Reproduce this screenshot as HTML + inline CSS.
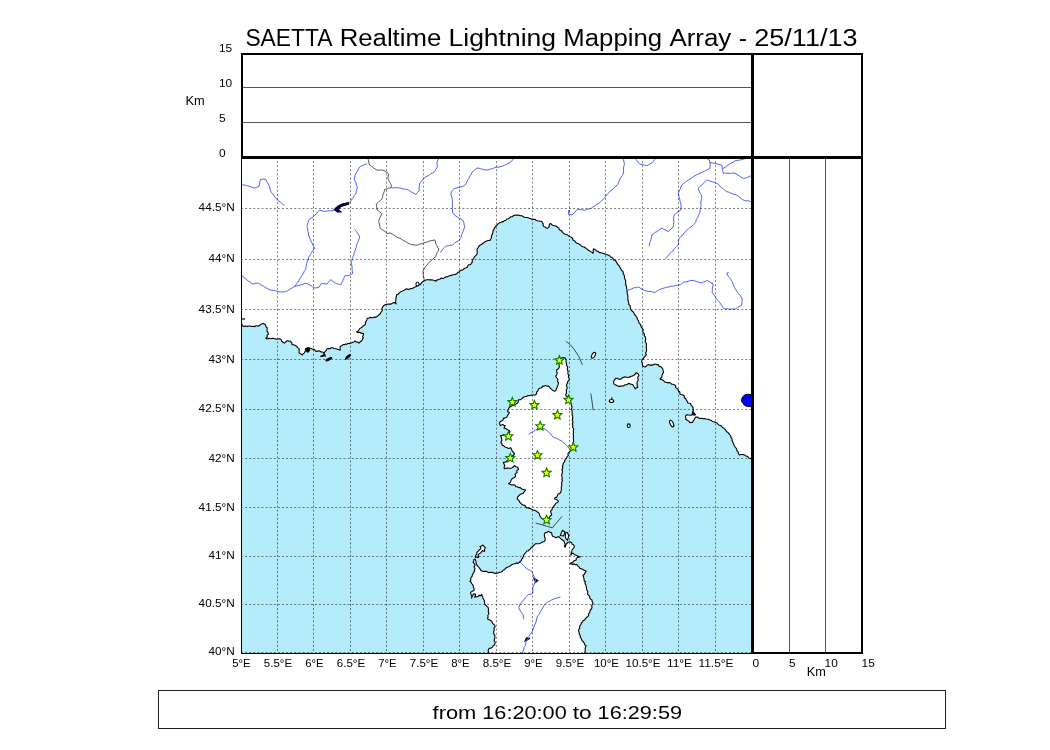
<!DOCTYPE html>
<html><head><meta charset="utf-8"><style>html,body{margin:0;padding:0;background:#fff;width:1050px;height:750px;overflow:hidden}svg{display:block;will-change:transform}</style></head>
<body><svg width="1050" height="750" viewBox="0 0 1050 750">
<defs><clipPath id="mc"><rect x="241" y="157" width="511" height="496"/></clipPath></defs><g clip-path="url(#mc)"><rect x="241" y="157" width="511" height="496" fill="#b4ecfc"/><g fill="#fff" stroke="#000" stroke-width="1.1" stroke-linejoin="round"><path d="M230.0 323.4 L231.3 323.2 L232.6 323.0 L233.9 323.6 L235.2 322.9 L236.6 323.4 L237.9 323.2 L239.2 322.9 L240.5 323.4 L241.8 323.4 L242.2 325.7 L244.1 326.5 L245.6 325.9 L247.1 326.4 L248.7 326.0 L250.2 326.0 L251.7 326.5 L253.1 326.3 L254.5 326.7 L255.8 325.8 L257.2 325.8 L258.6 326.1 L259.8 325.3 L260.9 324.2 L263.1 323.4 L265.4 324.6 L265.9 326.6 L267.3 328.0 L266.9 330.3 L267.3 331.6 L268.1 332.8 L268.5 334.1 L267.1 335.2 L267.2 337.2 L265.8 338.3 L267.4 338.9 L269.2 338.3 L270.8 338.7 L272.2 338.3 L273.5 338.4 L274.9 338.7 L276.2 339.3 L277.6 339.0 L279.9 338.7 L281.2 339.8 L281.8 341.3 L283.1 342.3 L284.5 343.2 L285.6 342.2 L286.4 341.0 L287.8 340.9 L289.2 341.3 L290.6 341.3 L291.8 342.8 L292.1 344.8 L293.8 344.8 L295.3 345.5 L296.7 346.3 L297.7 347.6 L299.0 348.6 L299.1 350.0 L299.2 351.4 L299.0 352.8 L300.1 353.6 L301.3 354.2 L302.4 355.0 L303.1 353.7 L304.4 352.9 L305.0 351.6 L305.6 350.2 L305.8 348.6 L307.3 347.9 L308.9 347.8 L310.2 348.3 L311.5 348.6 L312.8 349.4 L314.2 349.3 L315.7 351.2 L317.0 351.4 L318.4 350.8 L319.7 351.0 L321.1 352.0 L322.9 352.0 L323.8 353.2 L323.9 354.8 L322.3 355.6 L320.6 356.2 L322.2 356.5 L323.7 355.8 L325.3 356.2 L325.0 354.9 L324.1 353.8 L324.3 352.4 L325.4 351.3 L326.4 350.1 L327.1 348.7 L328.5 348.6 L330.0 348.7 L331.3 347.8 L332.7 347.8 L334.2 348.5 L335.8 348.8 L337.4 349.2 L338.8 349.7 L340.2 350.1 L340.1 348.2 L340.2 346.4 L341.8 345.8 L343.0 344.5 L344.4 344.8 L345.6 344.1 L346.9 344.2 L348.1 343.3 L349.5 343.6 L351.0 343.1 L352.4 342.4 L354.0 342.0 L355.1 340.8 L356.2 341.9 L357.8 342.1 L358.9 343.1 L360.2 341.8 L361.7 340.8 L362.6 339.5 L363.1 338.0 L362.7 336.4 L363.4 334.9 L363.6 333.3 L362.2 333.4 L360.9 333.1 L359.8 332.3 L358.1 332.6 L356.5 331.9 L357.9 331.2 L358.9 330.0 L359.8 328.6 L361.2 327.6 L362.6 326.7 L363.4 325.7 L364.8 325.1 L365.4 323.9 L365.4 322.3 L366.3 321.1 L366.9 319.7 L367.3 318.3 L368.8 318.3 L370.1 317.4 L371.5 317.8 L372.9 317.8 L374.3 317.1 L375.7 317.4 L377.6 316.0 L378.9 314.8 L380.4 313.7 L380.7 312.4 L381.8 311.4 L382.3 310.1 L381.9 308.6 L382.4 307.3 L383.2 306.2 L384.3 305.3 L385.5 304.6 L386.9 304.3 L388.5 304.1 L390.0 304.1 L391.6 303.9 L392.9 302.9 L394.4 302.5 L396.2 303.9 L395.5 302.6 L395.8 301.1 L395.8 299.7 L395.9 298.0 L396.5 296.3 L396.7 294.6 L398.2 294.2 L399.2 293.1 L400.2 292.0 L401.5 291.4 L402.9 290.8 L404.2 290.2 L405.4 289.4 L406.6 288.7 L408.1 289.5 L409.4 289.1 L410.6 288.6 L412.0 288.6 L413.3 288.0 L414.5 287.1 L415.8 286.8 L417.0 285.9 L418.2 284.9 L419.8 284.7 L421.0 283.8 L421.8 282.5 L422.9 281.6 L424.1 280.9 L425.4 280.3 L426.8 279.8 L428.2 279.8 L429.7 279.9 L431.3 279.7 L432.9 280.0 L434.4 280.5 L435.8 281.2 L437.0 280.0 L438.6 279.6 L440.1 279.0 L441.3 278.0 L443.0 278.6 L444.3 277.9 L445.5 276.9 L447.0 276.9 L448.3 276.2 L449.7 275.8 L451.2 275.4 L452.5 274.7 L454.0 274.7 L455.4 274.4 L456.7 273.8 L457.7 272.6 L458.9 271.9 L459.9 270.8 L461.1 270.2 L462.6 269.9 L463.7 269.0 L464.8 268.3 L466.1 267.8 L467.4 267.2 L467.9 265.7 L468.8 264.7 L470.5 264.7 L471.2 263.4 L472.2 262.5 L472.2 260.7 L473.1 259.1 L474.0 258.0 L474.4 256.6 L475.7 255.8 L476.5 254.7 L477.2 253.5 L477.2 252.1 L477.1 250.8 L477.0 249.5 L477.5 248.3 L478.4 247.3 L478.9 246.0 L480.0 245.2 L481.4 244.6 L482.5 243.5 L483.9 242.8 L485.0 241.7 L486.6 241.1 L488.2 240.5 L489.9 240.4 L490.8 239.0 L491.5 237.5 L491.4 235.8 L492.2 234.6 L492.6 233.3 L493.0 231.9 L493.0 230.5 L494.0 229.5 L494.2 228.0 L495.3 227.1 L496.0 225.9 L497.1 225.0 L498.1 223.9 L499.3 223.1 L500.7 222.6 L501.8 221.9 L503.3 221.6 L504.4 220.6 L505.9 220.3 L506.8 219.0 L508.3 218.8 L509.6 218.1 L510.5 216.8 L512.2 216.8 L513.4 215.6 L515.0 215.2 L516.4 215.0 L517.7 215.1 L519.1 215.2 L520.4 215.7 L521.9 215.7 L523.1 216.6 L524.4 217.2 L525.7 217.5 L527.2 217.5 L528.7 218.0 L530.2 218.6 L531.7 219.3 L533.3 219.4 L534.8 219.2 L536.1 220.2 L537.4 220.8 L538.8 221.0 L540.2 221.3 L541.7 221.3 L542.3 222.6 L543.2 223.8 L543.1 225.5 L544.0 226.7 L545.3 227.0 L546.4 228.0 L547.8 228.2 L549.1 226.9 L549.2 225.1 L550.1 223.6 L551.4 224.1 L552.4 225.3 L553.8 225.7 L555.3 225.8 L556.6 226.4 L557.7 227.4 L558.9 228.0 L559.2 229.6 L560.2 230.4 L561.7 230.8 L562.3 232.0 L563.4 233.1 L564.5 234.0 L566.0 234.5 L567.5 234.9 L568.6 235.9 L569.9 236.6 L571.3 237.2 L572.5 238.1 L572.8 239.9 L574.1 240.6 L575.3 241.5 L576.1 242.8 L577.5 243.4 L579.1 244.1 L580.6 245.0 L581.5 246.1 L582.6 246.8 L584.1 247.0 L585.2 247.8 L586.3 248.6 L587.4 249.3 L588.3 250.4 L589.6 250.8 L590.6 251.7 L591.9 252.2 L592.8 253.3 L593.5 251.9 L593.1 250.3 L593.5 248.8 L594.7 249.4 L595.8 250.2 L596.7 251.1 L598.1 251.2 L599.0 252.4 L600.4 252.6 L601.9 253.1 L603.5 253.6 L605.0 254.1 L606.5 254.6 L608.0 255.0 L609.5 255.5 L610.3 256.8 L611.7 257.4 L612.9 258.2 L613.5 259.9 L615.1 260.2 L616.0 261.4 L616.8 262.6 L617.4 263.9 L618.3 265.0 L619.4 266.1 L620.0 267.4 L620.7 268.6 L621.3 270.0 L622.4 271.0 L623.3 272.2 L623.2 273.8 L624.1 275.0 L624.5 276.4 L624.4 278.0 L625.1 279.2 L625.6 280.6 L625.7 282.0 L625.7 283.4 L625.7 284.9 L626.5 286.2 L626.5 287.6 L626.8 289.0 L627.0 290.4 L627.2 291.8 L627.2 293.2 L627.7 294.6 L627.8 296.0 L628.0 297.4 L627.7 298.9 L628.2 300.2 L628.2 301.7 L628.8 303.0 L628.8 304.5 L630.1 305.6 L630.3 307.0 L630.4 308.5 L631.1 309.8 L632.0 311.0 L633.2 312.0 L634.0 313.1 L634.5 314.6 L635.6 315.5 L636.3 316.8 L637.2 317.9 L637.4 319.5 L638.4 320.6 L638.8 322.1 L639.3 323.5 L640.8 324.4 L640.8 326.0 L641.6 327.4 L642.4 328.6 L643.3 329.8 L642.9 331.5 L643.2 332.9 L644.5 334.0 L644.2 335.6 L645.3 336.8 L645.6 338.2 L645.7 339.6 L645.2 341.0 L645.5 342.3 L646.5 343.7 L646.3 345.1 L646.3 346.4 L646.4 347.8 L646.5 349.1 L646.5 350.4 L646.2 351.7 L645.6 353.0 L646.3 354.4 L645.6 355.6 L644.7 356.5 L643.9 357.6 L643.3 358.9 L642.0 359.5 L641.8 362.0 L642.4 363.9 L642.6 365.8 L643.7 366.5 L645.0 367.0 L646.2 366.2 L647.1 365.0 L648.6 364.6 L650.0 365.2 L651.4 364.9 L652.8 365.2 L654.2 364.1 L655.6 364.3 L657.0 364.6 L658.5 364.9 L659.2 366.4 L660.7 366.6 L661.8 367.6 L662.8 369.0 L663.1 370.8 L663.6 372.4 L662.5 373.8 L662.0 375.5 L661.8 377.2 L660.0 379.0 L661.5 379.5 L663.0 380.2 L664.2 381.4 L665.3 382.3 L666.7 382.3 L667.9 382.9 L669.4 382.6 L670.6 383.0 L671.6 384.2 L673.0 384.3 L674.2 384.8 L675.6 385.7 L675.8 387.6 L677.1 388.6 L678.2 389.7 L678.5 391.1 L679.9 391.9 L679.7 393.5 L680.7 394.5 L683.0 395.0 L684.3 395.9 L684.4 397.7 L685.7 398.7 L686.4 400.1 L687.3 401.5 L687.8 403.0 L689.1 403.3 L690.5 403.5 L691.1 405.4 L692.6 406.7 L693.1 408.0 L693.1 409.4 L693.3 411.1 L692.6 412.6 L692.1 414.7 L690.5 415.3 L688.6 415.0 L686.7 414.7 L685.4 416.3 L685.9 417.9 L685.7 419.5 L687.0 419.9 L688.0 420.8 L689.2 421.5 L689.9 422.7 L691.2 422.2 L692.6 422.5 L693.2 420.9 L694.2 419.5 L695.3 417.4 L696.6 417.0 L697.9 417.1 L698.8 418.1 L700.1 418.5 L701.6 418.4 L703.0 418.8 L704.5 418.5 L705.9 419.0 L707.3 419.3 L708.7 419.4 L709.9 420.1 L711.3 420.3 L712.3 421.5 L713.7 421.8 L715.0 422.2 L716.5 422.7 L717.7 423.8 L718.7 425.0 L720.3 425.4 L721.7 426.0 L722.3 427.5 L723.7 428.1 L724.8 429.1 L725.8 430.2 L726.5 431.6 L727.9 432.4 L728.9 433.6 L729.7 434.8 L730.9 435.8 L730.8 437.4 L732.0 438.5 L731.9 440.1 L732.5 441.4 L733.0 442.8 L733.8 444.1 L734.1 445.5 L735.0 446.8 L736.0 448.0 L736.7 449.4 L737.0 451.0 L738.3 452.1 L738.4 453.8 L739.5 455.0 L741.0 454.5 L742.5 454.5 L744.4 454.9 L746.0 456.0 L747.7 456.4 L748.7 458.0 L750.4 458.4 L751.6 459.3 L753.1 459.6 L754.6 459.7 L756.0 460.2 L757.3 460.7 L758.6 461.4 L760.0 462.0 L759.6 460.7 L759.9 459.4 L759.7 458.1 L760.6 456.8 L760.6 455.5 L760.1 454.2 L759.7 452.9 L760.6 451.6 L759.8 450.3 L759.8 449.0 L759.4 447.7 L759.9 446.4 L760.0 445.1 L760.0 443.8 L759.6 442.5 L760.0 441.2 L759.4 439.9 L759.7 438.6 L759.5 437.3 L759.9 436.0 L759.5 434.7 L759.4 433.4 L759.8 432.1 L759.7 430.8 L760.1 429.5 L760.0 428.2 L760.3 426.9 L760.2 425.6 L760.3 424.3 L760.5 423.0 L759.9 421.7 L759.8 420.4 L760.6 419.1 L759.6 417.8 L760.3 416.5 L760.2 415.2 L759.5 413.9 L760.4 412.6 L760.5 411.3 L760.2 410.0 L760.3 408.7 L760.4 407.4 L759.6 406.1 L760.0 404.8 L760.0 403.5 L760.4 402.2 L760.4 400.9 L760.4 399.6 L760.1 398.3 L760.5 397.0 L760.2 395.7 L760.2 394.4 L759.7 393.1 L759.4 391.8 L759.6 390.5 L759.8 389.2 L759.5 387.9 L760.4 386.6 L760.1 385.3 L760.2 384.0 L760.2 382.7 L760.2 381.4 L760.0 380.1 L759.4 378.8 L760.4 377.5 L760.3 376.2 L760.0 374.9 L760.0 373.6 L760.2 372.3 L759.5 371.0 L760.3 369.7 L759.7 368.4 L759.5 367.1 L759.7 365.8 L760.3 364.5 L759.6 363.2 L760.3 361.9 L760.6 360.6 L760.0 359.3 L759.9 358.0 L760.0 356.7 L760.2 355.4 L760.3 354.1 L760.1 352.8 L760.2 351.5 L759.5 350.2 L759.6 348.9 L759.7 347.6 L760.3 346.3 L759.8 345.0 L760.1 343.7 L759.4 342.4 L759.5 341.1 L759.7 339.8 L760.2 338.5 L760.2 337.2 L760.2 335.9 L759.7 334.6 L760.0 333.3 L760.0 332.0 L760.0 330.7 L759.5 329.4 L760.5 328.1 L759.6 326.8 L760.6 325.5 L760.5 324.2 L759.4 322.9 L760.0 321.6 L760.4 320.3 L760.6 319.0 L759.9 317.7 L759.7 316.4 L759.7 315.1 L760.5 313.8 L759.7 312.5 L760.1 311.2 L759.6 309.9 L760.0 308.6 L760.5 307.3 L759.6 306.0 L760.4 304.7 L760.0 303.4 L760.5 302.1 L760.2 300.8 L759.7 299.5 L760.5 298.2 L760.0 296.9 L759.4 295.6 L759.4 294.3 L760.0 293.0 L759.9 291.7 L759.8 290.4 L759.6 289.1 L759.8 287.8 L759.8 286.5 L760.4 285.2 L759.4 283.9 L760.3 282.6 L760.4 281.3 L759.5 280.0 L760.5 278.7 L760.3 277.4 L760.5 276.1 L759.7 274.8 L759.8 273.5 L759.9 272.2 L760.6 270.9 L760.1 269.6 L759.8 268.3 L759.9 267.0 L759.7 265.7 L759.5 264.4 L759.5 263.1 L760.4 261.8 L759.7 260.5 L760.5 259.2 L759.7 257.9 L759.7 256.6 L760.0 255.3 L759.6 254.0 L759.8 252.7 L760.5 251.4 L760.5 250.1 L760.4 248.8 L760.2 247.5 L760.5 246.2 L760.5 244.9 L760.1 243.6 L760.3 242.3 L759.5 241.0 L760.3 239.7 L759.9 238.4 L760.3 237.1 L760.2 235.8 L759.7 234.5 L759.5 233.2 L760.5 231.9 L759.6 230.6 L760.0 229.3 L759.8 228.0 L759.8 226.7 L760.3 225.4 L760.6 224.1 L759.7 222.8 L760.2 221.5 L759.8 220.2 L760.1 218.9 L759.9 217.6 L759.6 216.3 L759.6 215.0 L759.6 213.7 L760.5 212.4 L760.0 211.1 L759.7 209.8 L760.5 208.5 L760.6 207.2 L759.9 205.9 L759.6 204.6 L759.6 203.3 L759.5 202.0 L759.8 200.7 L759.5 199.4 L759.7 198.1 L759.7 196.8 L760.1 195.5 L760.5 194.2 L760.3 192.9 L759.9 191.6 L759.9 190.3 L760.0 189.0 L759.9 187.7 L759.8 186.4 L759.5 185.1 L759.7 183.8 L760.6 182.5 L759.6 181.2 L760.0 179.9 L760.2 178.6 L760.4 177.3 L759.7 176.0 L759.7 174.7 L759.7 173.4 L759.9 172.1 L759.9 170.8 L760.5 169.5 L760.4 168.2 L760.4 166.9 L759.4 165.6 L759.4 164.3 L760.3 163.0 L760.5 161.7 L760.0 160.4 L760.1 159.1 L759.4 157.8 L759.9 156.5 L760.5 155.2 L760.4 153.9 L760.4 152.6 L760.6 151.3 L760.0 150.0 L758.7 150.3 L757.4 150.5 L756.1 150.4 L754.8 150.0 L753.5 149.8 L752.2 149.5 L750.9 149.7 L749.6 149.8 L748.3 149.7 L747.0 150.1 L745.7 149.9 L744.4 150.6 L743.1 149.7 L741.8 150.3 L740.5 149.5 L739.2 149.8 L737.9 150.2 L736.6 150.4 L735.3 150.3 L734.0 149.8 L732.7 149.8 L731.4 150.5 L730.0 150.5 L728.7 150.0 L727.4 149.9 L726.1 150.1 L724.8 150.3 L723.5 149.9 L722.2 150.6 L720.9 150.2 L719.6 150.0 L718.3 149.4 L717.0 149.8 L715.7 149.5 L714.4 150.0 L713.1 150.3 L711.8 150.3 L710.5 149.4 L709.2 149.8 L707.9 150.2 L706.6 150.6 L705.3 150.0 L704.0 149.8 L702.7 150.1 L701.4 150.3 L700.1 149.8 L698.8 149.5 L697.5 150.3 L696.2 150.6 L694.9 150.2 L693.6 150.1 L692.3 149.8 L691.0 150.4 L689.7 149.6 L688.4 149.7 L687.1 150.0 L685.8 150.4 L684.5 149.4 L683.2 150.2 L681.9 149.6 L680.6 150.3 L679.3 150.3 L678.0 149.7 L676.7 150.2 L675.4 149.5 L674.1 150.0 L672.8 150.4 L671.4 150.3 L670.1 150.1 L668.8 149.8 L667.5 149.5 L666.2 150.4 L664.9 150.1 L663.6 150.3 L662.3 149.4 L661.0 150.4 L659.7 150.5 L658.4 150.5 L657.1 150.1 L655.8 149.5 L654.5 149.5 L653.2 149.7 L651.9 149.4 L650.6 149.5 L649.3 150.2 L648.0 150.4 L646.7 149.5 L645.4 149.7 L644.1 150.6 L642.8 149.8 L641.5 150.1 L640.2 150.2 L638.9 150.2 L637.6 150.4 L636.3 150.6 L635.0 150.3 L633.7 150.2 L632.4 149.5 L631.1 150.5 L629.8 149.4 L628.5 150.4 L627.2 150.2 L625.9 149.6 L624.6 149.6 L623.3 150.1 L622.0 150.5 L620.7 150.0 L619.4 150.2 L618.1 149.5 L616.8 150.4 L615.5 150.2 L614.2 149.5 L612.9 150.6 L611.5 150.1 L610.2 149.6 L608.9 149.7 L607.6 150.6 L606.3 150.6 L605.0 150.5 L603.7 149.5 L602.4 150.3 L601.1 149.7 L599.8 149.5 L598.5 150.2 L597.2 150.3 L595.9 149.5 L594.6 149.9 L593.3 150.3 L592.0 149.7 L590.7 150.2 L589.4 150.3 L588.1 150.6 L586.8 149.7 L585.5 149.5 L584.2 149.8 L582.9 149.5 L581.6 150.6 L580.3 150.3 L579.0 150.0 L577.7 149.5 L576.4 149.5 L575.1 150.1 L573.8 150.3 L572.5 150.1 L571.2 150.0 L569.9 149.5 L568.6 150.4 L567.3 149.6 L566.0 149.7 L564.7 149.6 L563.4 149.7 L562.1 149.9 L560.8 150.2 L559.5 150.2 L558.2 150.2 L556.9 149.7 L555.6 150.5 L554.3 150.4 L552.9 149.7 L551.6 150.3 L550.3 150.5 L549.0 150.6 L547.7 149.9 L546.4 150.2 L545.1 149.4 L543.8 149.5 L542.5 149.4 L541.2 150.3 L539.9 150.5 L538.6 150.5 L537.3 150.0 L536.0 149.7 L534.7 150.1 L533.4 150.3 L532.1 150.1 L530.8 149.9 L529.5 149.8 L528.2 149.7 L526.9 149.6 L525.6 149.8 L524.3 150.5 L523.0 149.6 L521.7 150.2 L520.4 149.9 L519.1 150.2 L517.8 149.7 L516.5 150.4 L515.2 150.3 L513.9 150.3 L512.6 150.4 L511.3 149.5 L510.0 149.9 L508.7 150.2 L507.4 150.1 L506.1 149.4 L504.8 150.0 L503.5 150.3 L502.2 149.6 L500.9 149.8 L499.6 149.4 L498.3 150.5 L497.0 150.0 L495.7 149.6 L494.3 149.6 L493.0 149.5 L491.7 150.6 L490.4 150.2 L489.1 150.5 L487.8 150.4 L486.5 149.4 L485.2 149.9 L483.9 149.5 L482.6 150.2 L481.3 149.6 L480.0 150.1 L478.7 150.3 L477.4 149.7 L476.1 149.5 L474.8 150.5 L473.5 149.9 L472.2 149.9 L470.9 150.3 L469.6 150.2 L468.3 150.4 L467.0 150.4 L465.7 150.3 L464.4 149.9 L463.1 149.8 L461.8 150.4 L460.5 150.6 L459.2 150.2 L457.9 149.8 L456.6 150.4 L455.3 150.2 L454.0 150.4 L452.7 149.6 L451.4 149.9 L450.1 150.5 L448.8 150.5 L447.5 150.1 L446.2 149.9 L444.9 149.8 L443.6 150.5 L442.3 150.4 L441.0 149.8 L439.7 150.1 L438.4 150.3 L437.1 150.2 L435.7 149.5 L434.4 150.2 L433.1 149.9 L431.8 150.2 L430.5 150.1 L429.2 149.6 L427.9 149.4 L426.6 150.2 L425.3 150.4 L424.0 149.7 L422.7 150.4 L421.4 150.6 L420.1 149.5 L418.8 150.1 L417.5 149.6 L416.2 150.1 L414.9 149.5 L413.6 150.0 L412.3 150.4 L411.0 150.6 L409.7 149.9 L408.4 149.8 L407.1 149.5 L405.8 150.5 L404.5 149.9 L403.2 150.2 L401.9 150.0 L400.6 150.4 L399.3 150.3 L398.0 150.0 L396.7 149.5 L395.4 150.5 L394.1 150.0 L392.8 149.6 L391.5 149.4 L390.2 150.4 L388.9 150.4 L387.6 149.5 L386.3 149.4 L385.0 150.0 L383.7 150.5 L382.4 149.5 L381.1 150.1 L379.8 149.5 L378.5 149.9 L377.1 149.6 L375.8 150.4 L374.5 149.7 L373.2 150.3 L371.9 150.1 L370.6 149.6 L369.3 149.6 L368.0 150.4 L366.7 150.3 L365.4 150.1 L364.1 150.0 L362.8 150.1 L361.5 150.5 L360.2 150.3 L358.9 149.7 L357.6 149.5 L356.3 150.6 L355.0 149.9 L353.7 149.7 L352.4 150.6 L351.1 149.6 L349.8 150.5 L348.5 149.9 L347.2 149.9 L345.9 149.8 L344.6 150.2 L343.3 150.1 L342.0 149.9 L340.7 150.1 L339.4 149.8 L338.1 150.1 L336.8 150.1 L335.5 150.6 L334.2 149.9 L332.9 150.0 L331.6 150.3 L330.3 149.7 L329.0 149.7 L327.7 150.1 L326.4 150.4 L325.1 150.0 L323.8 150.5 L322.5 150.4 L321.2 150.1 L319.9 150.5 L318.6 150.1 L317.2 150.0 L315.9 150.6 L314.6 149.8 L313.3 150.5 L312.0 149.7 L310.7 149.7 L309.4 150.0 L308.1 150.5 L306.8 150.0 L305.5 150.1 L304.2 149.5 L302.9 150.4 L301.6 149.6 L300.3 149.4 L299.0 149.7 L297.7 149.6 L296.4 150.4 L295.1 149.4 L293.8 150.0 L292.5 149.5 L291.2 149.5 L289.9 150.4 L288.6 149.7 L287.3 149.5 L286.0 150.5 L284.7 150.2 L283.4 149.7 L282.1 150.4 L280.8 149.5 L279.5 150.3 L278.2 149.6 L276.9 150.4 L275.6 150.0 L274.3 149.5 L273.0 150.4 L271.7 150.3 L270.4 150.0 L269.1 150.2 L267.8 150.6 L266.5 150.4 L265.2 150.4 L263.9 149.5 L262.6 149.8 L261.3 149.5 L260.0 150.4 L258.6 149.7 L257.3 150.5 L256.0 150.0 L254.7 149.8 L253.4 150.2 L252.1 149.6 L250.8 149.9 L249.5 149.9 L248.2 149.5 L246.9 150.5 L245.6 149.4 L244.3 149.8 L243.0 150.1 L241.7 149.6 L240.4 150.3 L239.1 149.4 L237.8 149.9 L236.5 150.2 L235.2 149.7 L233.9 150.1 L232.6 150.4 L231.3 149.7 L230.0 150.0 L230.5 151.3 L229.6 152.6 L230.3 153.9 L229.8 155.2 L229.4 156.5 L229.9 157.8 L229.8 159.1 L230.2 160.4 L230.6 161.7 L230.6 163.0 L230.4 164.3 L229.9 165.6 L230.1 166.9 L230.0 168.3 L229.5 169.6 L230.4 170.9 L230.3 172.2 L229.8 173.5 L230.6 174.8 L230.6 176.1 L230.2 177.4 L230.5 178.7 L230.2 180.0 L230.3 181.3 L229.9 182.6 L229.9 183.9 L230.4 185.2 L229.9 186.5 L230.0 187.8 L230.4 189.1 L229.5 190.4 L230.3 191.7 L230.4 193.0 L230.5 194.3 L229.8 195.6 L229.6 196.9 L229.7 198.2 L230.1 199.5 L230.3 200.8 L230.6 202.2 L229.8 203.5 L229.9 204.8 L230.2 206.1 L229.8 207.4 L230.1 208.7 L229.5 210.0 L229.7 211.3 L230.3 212.6 L229.5 213.9 L230.5 215.2 L230.0 216.5 L230.1 217.8 L230.3 219.1 L230.5 220.4 L229.7 221.7 L230.6 223.0 L229.9 224.3 L229.5 225.6 L230.4 226.9 L230.4 228.2 L229.9 229.5 L230.0 230.8 L229.8 232.1 L229.6 233.4 L230.4 234.7 L230.2 236.0 L230.2 237.4 L230.5 238.7 L229.5 240.0 L229.7 241.3 L229.7 242.6 L230.6 243.9 L229.6 245.2 L229.7 246.5 L230.0 247.8 L229.7 249.1 L230.1 250.4 L230.3 251.7 L230.5 253.0 L230.3 254.3 L230.6 255.6 L230.2 256.9 L229.7 258.2 L229.8 259.5 L229.6 260.8 L229.7 262.1 L230.3 263.4 L229.9 264.7 L230.1 266.0 L229.7 267.3 L230.0 268.6 L230.3 269.9 L229.8 271.2 L229.4 272.6 L230.3 273.9 L229.5 275.2 L230.6 276.5 L230.3 277.8 L230.3 279.1 L229.7 280.4 L229.5 281.7 L229.7 283.0 L230.2 284.3 L229.5 285.6 L230.2 286.9 L230.3 288.2 L229.5 289.5 L229.8 290.8 L229.8 292.1 L229.8 293.4 L229.4 294.7 L230.0 296.0 L229.6 297.3 L229.8 298.6 L229.6 299.9 L230.1 301.2 L229.7 302.5 L229.9 303.8 L230.2 305.1 L230.3 306.5 L229.9 307.8 L230.5 309.1 L229.5 310.4 L230.4 311.7 L230.6 313.0 L230.5 314.3 L229.5 315.6 L230.2 316.9 L230.4 318.2 L230.6 319.5 L230.6 320.8 L229.8 322.1Z"/><path d="M564.7 357.7 L566.1 359.6 L566.1 361.1 L566.2 362.5 L566.6 363.9 L566.6 365.5 L567.7 367.0 L567.3 368.7 L567.7 370.3 L568.1 371.6 L567.8 373.0 L568.1 374.3 L568.7 375.6 L568.3 377.2 L569.4 378.8 L569.0 380.4 L567.8 381.5 L567.4 383.1 L566.7 384.4 L566.4 385.8 L567.2 387.3 L566.9 388.7 L566.3 390.0 L566.5 391.6 L566.4 393.2 L565.6 394.7 L566.3 396.1 L567.3 397.1 L568.4 398.1 L569.5 399.1 L569.6 400.7 L570.2 402.1 L571.1 403.5 L571.3 405.1 L571.9 406.4 L572.0 407.8 L571.3 409.2 L572.1 410.6 L572.1 411.9 L572.1 413.3 L572.1 414.7 L572.8 416.0 L572.6 417.3 L572.7 418.7 L572.2 420.0 L572.8 421.3 L572.9 422.7 L572.2 424.1 L572.9 425.3 L572.6 426.7 L573.0 428.0 L573.8 429.3 L573.4 430.7 L573.4 432.0 L573.5 433.3 L573.1 434.7 L573.6 436.0 L573.2 437.3 L573.4 438.7 L573.4 440.0 L573.7 441.4 L572.9 442.8 L573.7 444.3 L573.2 445.7 L572.2 446.6 L572.2 448.1 L571.7 449.4 L570.8 450.4 L569.8 451.3 L568.8 452.5 L567.9 453.8 L568.3 455.6 L567.1 456.7 L566.4 458.1 L565.7 459.2 L564.7 460.2 L564.7 461.7 L563.7 462.7 L563.0 463.8 L563.0 465.3 L562.3 466.7 L562.8 468.2 L561.8 469.6 L562.5 471.1 L562.4 472.6 L561.9 474.0 L561.7 475.4 L561.9 476.9 L562.4 478.3 L561.7 479.7 L562.4 481.1 L561.6 482.5 L561.7 484.0 L561.9 485.4 L561.3 486.7 L561.3 488.1 L561.4 489.5 L561.1 490.9 L560.8 492.2 L559.8 493.4 L558.2 494.1 L557.4 495.6 L556.8 497.1 L555.1 497.6 L554.5 499.0 L556.1 499.2 L557.3 500.2 L558.5 501.2 L557.6 502.5 L555.9 503.2 L555.1 504.6 L554.0 505.8 L553.4 507.0 L552.2 507.8 L552.2 509.3 L551.3 510.3 L550.6 511.4 L551.1 513.1 L551.7 514.8 L550.6 515.7 L549.7 516.7 L549.0 518.0 L547.7 519.1 L546.6 520.5 L544.9 519.4 L543.1 519.0 L541.5 518.2 L540.5 516.8 L539.6 515.4 L539.2 513.7 L538.3 512.5 L537.1 511.8 L536.0 510.9 L534.7 510.3 L533.2 510.2 L532.0 509.4 L530.7 508.6 L529.3 508.4 L527.9 508.0 L526.5 507.6 L525.6 506.5 L524.8 505.4 L523.2 505.3 L522.0 504.6 L521.1 503.5 L519.9 502.5 L519.3 501.1 L518.4 499.9 L517.1 499.0 L517.6 497.1 L518.8 495.6 L520.1 494.5 L521.7 493.8 L523.3 493.3 L523.9 492.1 L524.9 491.0 L525.6 489.9 L524.1 489.8 L522.8 489.2 L521.4 488.9 L520.3 487.5 L518.8 487.6 L517.5 486.7 L515.7 486.6 L514.8 485.0 L513.1 484.8 L511.5 484.9 L510.1 484.2 L508.6 483.7 L510.0 482.8 L510.7 481.4 L511.3 480.0 L512.4 478.4 L514.2 477.6 L515.6 476.3 L515.1 474.1 L516.1 473.2 L517.2 472.5 L516.7 470.9 L518.5 469.3 L517.7 467.2 L515.9 466.7 L514.5 465.6 L513.3 466.5 L512.4 467.7 L510.9 468.2 L509.5 468.2 L508.0 468.1 L506.5 468.0 L504.4 468.8 L504.1 467.1 L504.9 465.6 L504.0 464.1 L503.3 462.4 L505.0 462.2 L506.5 461.3 L507.8 460.5 L508.8 459.4 L510.1 458.5 L511.1 457.4 L512.1 456.1 L513.5 455.5 L514.5 453.9 L513.5 452.3 L511.9 450.7 L511.5 449.2 L510.8 447.7 L508.7 448.5 L506.5 447.5 L505.0 446.9 L503.8 445.8 L502.3 445.3 L502.0 443.8 L500.9 442.7 L501.4 441.3 L502.0 440.0 L501.5 438.6 L501.2 437.1 L500.4 435.8 L501.7 435.4 L503.0 434.9 L504.5 435.2 L505.9 435.0 L507.2 434.6 L508.5 434.0 L509.5 432.9 L510.0 431.6 L509.1 430.4 L507.6 429.8 L506.5 429.0 L505.3 428.4 L504.0 428.0 L504.6 426.8 L505.2 425.6 L503.9 425.2 L502.8 424.4 L501.5 424.9 L500.4 425.6 L499.6 423.9 L499.8 422.0 L501.0 421.3 L502.2 420.8 L503.1 419.8 L503.4 418.4 L505.8 417.8 L506.9 416.8 L507.6 415.4 L508.6 414.0 L509.4 412.4 L507.6 411.8 L508.2 409.4 L508.9 408.0 L510.0 407.0 L511.2 406.3 L512.4 405.8 L513.7 405.3 L514.8 404.5 L516.0 404.0 L517.8 402.8 L518.3 401.3 L518.4 399.8 L520.4 399.7 L522.0 398.6 L523.0 397.4 L524.4 396.8 L526.3 396.4 L528.0 395.6 L529.4 395.8 L530.7 395.2 L532.0 395.1 L533.4 395.0 L535.2 395.0 L536.6 393.9 L536.6 392.2 L537.8 391.0 L538.3 389.5 L539.2 388.3 L540.7 388.1 L541.9 387.4 L542.7 386.1 L544.2 386.1 L545.7 385.6 L547.2 386.2 L548.7 386.1 L549.5 387.1 L550.3 388.2 L551.3 389.0 L552.2 390.0 L553.4 390.8 L554.8 391.3 L556.0 390.0 L556.5 388.4 L557.1 387.2 L557.5 385.9 L558.1 384.7 L558.5 383.1 L557.6 381.5 L557.8 379.9 L557.3 378.5 L556.3 377.4 L555.7 376.1 L556.8 374.6 L557.3 372.9 L556.6 371.4 L556.7 369.7 L558.5 368.8 L559.4 367.1 L559.1 365.8 L559.1 364.4 L559.0 363.0 L559.6 361.8 L560.1 360.5 L560.1 359.1 L561.0 358.0 L562.8 357.8Z"/><path d="M475.1 559.1 L475.6 560.4 L476.0 561.7 L476.2 563.5 L476.9 565.1 L478.0 566.3 L479.0 567.5 L480.0 568.8 L480.7 570.3 L482.0 570.9 L483.3 571.5 L484.8 571.4 L486.3 571.3 L487.6 572.0 L488.9 572.6 L490.3 572.4 L491.7 572.4 L493.1 572.6 L494.4 573.3 L495.8 573.4 L497.2 573.1 L498.6 572.7 L499.9 572.2 L501.3 572.0 L502.4 571.2 L503.1 570.0 L504.7 569.8 L505.3 568.4 L506.4 567.7 L507.8 567.1 L509.2 566.5 L510.5 565.8 L511.6 564.7 L512.9 564.3 L514.1 563.8 L515.5 563.7 L516.6 562.9 L518.1 563.3 L519.3 562.6 L520.0 561.4 L521.3 560.7 L521.6 559.2 L522.7 558.3 L523.1 556.8 L523.6 555.3 L524.4 554.0 L525.3 553.1 L526.2 552.0 L527.0 551.0 L528.6 550.8 L529.2 549.5 L530.4 548.9 L531.2 547.6 L532.3 546.7 L533.5 545.8 L534.5 544.7 L535.6 543.7 L537.1 543.8 L538.5 543.8 L540.0 543.5 L541.3 542.6 L542.7 541.9 L544.2 541.5 L545.1 540.3 L545.2 538.3 L544.5 536.5 L544.3 534.6 L545.1 532.8 L547.0 532.4 L548.5 531.2 L549.9 532.4 L551.7 532.8 L551.9 534.7 L552.8 536.5 L554.3 536.7 L555.5 537.6 L557.1 537.4 L558.4 536.5 L560.3 538.1 L561.5 539.3 L562.9 540.3 L564.2 541.3 L564.5 542.9 L565.3 544.3 L564.4 545.8 L565.1 547.2 L565.8 546.0 L565.9 544.6 L566.7 543.5 L567.7 542.5 L569.0 542.0 L570.4 541.9 L571.6 542.6 L572.0 544.0 L573.3 544.5 L574.1 545.6 L574.3 547.0 L573.6 548.3 L572.2 549.6 L571.7 551.4 L571.0 553.2 L570.9 555.2 L571.7 553.8 L573.0 553.0 L574.3 554.5 L576.2 555.2 L577.6 555.9 L578.9 556.6 L580.5 556.8 L579.0 557.1 L577.5 557.4 L576.2 558.4 L576.2 560.0 L574.8 560.5 L573.5 561.2 L572.7 562.6 L571.1 562.8 L570.0 563.8 L571.4 564.0 L572.7 564.4 L574.1 564.1 L575.5 564.8 L576.9 564.5 L577.8 565.8 L579.1 566.9 L579.9 568.4 L581.3 568.7 L582.6 569.2 L583.6 570.2 L585.1 570.3 L586.1 571.4 L585.1 572.7 L584.4 574.3 L583.0 575.3 L583.4 576.6 L583.8 578.0 L584.1 579.3 L584.1 580.8 L585.5 581.8 L584.9 583.4 L585.7 584.7 L586.1 586.0 L586.4 587.3 L586.6 588.7 L586.7 590.0 L587.6 591.2 L587.8 592.5 L587.5 594.0 L588.4 595.2 L589.6 596.2 L589.8 597.9 L590.6 599.1 L592.0 600.0 L592.1 601.7 L593.0 602.9 L592.4 604.4 L591.7 605.8 L592.0 607.5 L591.4 609.0 L590.2 610.0 L590.1 611.6 L589.5 612.9 L588.4 613.9 L588.7 615.7 L587.6 616.7 L586.4 617.5 L585.5 618.6 L584.7 619.9 L583.2 620.5 L582.6 621.9 L581.5 622.8 L581.0 624.1 L580.4 625.4 L579.6 626.5 L579.8 628.1 L579.0 629.2 L578.4 630.5 L578.9 631.8 L579.2 633.1 L579.4 634.6 L580.4 635.7 L580.2 637.2 L581.2 638.3 L581.5 639.7 L582.4 640.9 L583.6 642.0 L584.3 643.4 L584.7 644.9 L586.1 645.8 L585.6 647.1 L585.1 648.5 L585.3 650.0 L585.0 651.4 L584.5 652.7 L584.7 654.0 L584.4 655.4 L584.3 656.7 L584.2 658.0 L585.1 659.3 L584.2 660.7 L584.5 662.0 L583.2 661.5 L581.9 661.9 L580.6 662.5 L579.3 662.2 L578.0 662.6 L576.7 662.4 L575.4 661.5 L574.1 661.9 L572.8 661.8 L571.5 661.7 L570.2 661.5 L568.9 661.9 L567.5 661.9 L566.2 661.8 L564.9 661.8 L563.6 661.9 L562.3 661.8 L561.0 662.3 L559.7 661.8 L558.4 662.1 L557.1 661.7 L555.8 662.5 L554.5 662.4 L553.2 662.6 L551.9 661.7 L550.6 661.5 L549.3 661.8 L548.0 662.2 L546.7 661.6 L545.4 661.7 L544.1 661.9 L542.8 662.3 L541.5 662.2 L540.2 662.1 L538.9 662.2 L537.6 662.1 L536.2 661.8 L534.9 661.5 L533.6 662.5 L532.3 661.9 L531.0 662.6 L529.7 662.5 L528.4 661.6 L527.1 661.9 L525.8 661.5 L524.5 662.1 L523.2 662.6 L521.9 662.1 L520.6 661.9 L519.3 661.5 L518.0 661.4 L516.7 662.0 L515.4 662.1 L514.1 662.5 L512.8 661.8 L511.5 662.3 L510.2 662.4 L508.9 662.6 L507.6 662.6 L506.3 661.8 L505.0 662.5 L503.6 661.4 L502.3 662.5 L501.0 661.6 L499.7 662.4 L498.4 662.6 L497.1 661.7 L495.8 662.3 L494.5 661.7 L493.2 662.4 L491.9 662.5 L490.6 661.7 L489.3 661.7 L488.0 662.0 L488.6 660.6 L488.7 659.1 L488.1 657.6 L489.0 656.2 L489.2 654.8 L489.2 653.3 L488.6 651.9 L488.1 650.5 L489.2 648.2 L491.1 648.1 L492.6 647.1 L493.1 645.8 L494.6 645.1 L494.9 643.7 L495.2 642.3 L494.3 640.9 L494.3 639.4 L494.9 638.0 L494.8 636.6 L494.8 635.2 L493.7 634.0 L493.7 632.6 L493.7 631.2 L494.3 629.9 L493.9 628.3 L495.0 627.1 L494.9 625.6 L494.0 624.5 L492.8 623.6 L492.2 622.2 L491.5 621.0 L490.2 620.2 L488.8 619.6 L487.5 618.8 L488.1 617.3 L487.8 615.6 L488.6 614.2 L488.9 612.8 L488.2 611.5 L488.5 610.1 L488.4 608.7 L488.1 607.4 L486.9 606.3 L485.7 605.2 L484.7 604.0 L484.6 602.5 L484.4 601.0 L483.8 599.6 L483.0 598.3 L482.7 597.0 L482.0 595.8 L481.8 594.4 L480.8 595.6 L478.9 595.4 L477.9 596.6 L476.2 596.7 L474.5 597.2 L475.4 595.9 L475.6 594.4 L473.3 593.8 L472.9 595.4 L472.0 596.8 L471.6 598.3 L471.9 596.8 L471.4 595.4 L470.9 594.1 L470.5 592.7 L471.5 591.7 L472.7 591.1 L473.9 590.4 L474.2 588.8 L473.4 587.4 L473.3 585.9 L472.6 584.6 L471.7 583.5 L471.1 582.2 L469.9 581.3 L470.8 580.2 L470.8 578.7 L471.0 577.3 L472.1 576.3 L472.3 574.9 L473.0 573.7 L473.6 572.6 L474.4 571.4 L474.5 570.0 L475.0 568.5 L474.1 566.9 L475.0 565.4 L474.7 563.9 L473.0 562.1 L473.8 561.0 L473.9 559.6Z"/><path d="M475.6 555.7 L476.7 554.2 L476.9 552.3 L478.2 551.2 L479.3 549.8 L480.7 548.9 L480.7 547.5 L479.9 546.3 L481.5 546.0 L482.9 545.0 L484.0 546.5 L485.4 547.6 L484.5 549.4 L484.6 551.4 L482.4 550.6 L481.5 551.8 L480.6 553.1 L479.1 553.8 L478.1 554.9 L478.6 557.4 L477.1 557.0 L475.6 557.4Z"/><path d="M614.3 380.0 L615.9 378.3 L617.3 378.2 L618.6 379.1 L620.0 379.1 L621.4 379.0 L622.3 377.6 L623.7 377.4 L624.8 376.7 L626.1 377.2 L627.5 377.2 L628.9 377.5 L630.1 376.6 L631.5 376.2 L632.9 375.9 L634.2 375.0 L635.3 374.0 L636.1 372.7 L637.4 373.5 L638.6 374.3 L638.9 375.7 L637.9 376.9 L637.8 378.2 L638.3 379.5 L637.8 380.8 L637.0 382.4 L637.2 384.0 L637.1 385.7 L637.8 387.2 L636.3 387.7 L635.3 388.9 L634.5 387.5 L633.7 386.2 L632.9 384.8 L631.6 384.2 L630.1 384.1 L628.9 383.2 L627.8 384.1 L626.6 384.7 L625.1 384.8 L624.0 385.6 L622.4 386.0 L620.7 386.1 L619.1 386.4 L617.7 386.0 L616.4 385.3 L615.1 384.8 L613.9 383.8 L613.5 382.4Z"/><ellipse cx="593.5" cy="355.2" rx="1.6" ry="3.2" transform="rotate(30 593.5 355.2)"/><ellipse cx="611.5" cy="401" rx="2.2" ry="1.5" transform="rotate(0 611.5 401)"/><path d="M611.8 397.2V399.5"/><ellipse cx="628.7" cy="425.7" rx="1.5" ry="1.8" transform="rotate(0 628.7 425.7)"/><ellipse cx="671.7" cy="423.6" rx="1.6" ry="3.6" transform="rotate(-25 671.7 423.6)"/><g fill="#111"><ellipse cx="328.8" cy="359.2" rx="3.2" ry="0.9" transform="rotate(-25 328.8 359.2)"/><ellipse cx="347.9" cy="356.9" rx="3.2" ry="0.9" transform="rotate(-42 347.9 356.9)"/></g><path d="M560.3 535.5 L562.5 530.3 L565.0 532.0 L563.5 536.0Z"/><path d="M565.3 533.0 L567.5 532.5 L568.8 536.0 L567.5 540.3 L565.5 538.0Z"/><ellipse cx="417.5" cy="284" rx="1.6" ry="2" transform="rotate(0 417.5 284)"/></g><path d="M692.6 411.2L695.8 414.9L692.3 415.1Z" fill="#0000cc" stroke="#000" stroke-width="1"/><path d="M533.5 577.8L538.3 580.5L535.5 582.8Z M524.6 641.5L526.5 637.5L530 638.5Z" fill="#000080" stroke="#000" stroke-width="0.8"/><path d="M241 319H245" stroke="#000" stroke-width="1.2"/><path d="M305.5 348L309.5 347.5L310.4 350L308 353L305.5 351Z" fill="#000"/><path fill="none" stroke="#333" stroke-width="0.9" d="M566.2 341.4 L570.5 345.0 L574.0 349.2 L578.8 356.4 L582.4 364.8 M590.8 393.6 L591.8 400.0 L593.2 410.4 M535.6 523.0 L552.4 527.8 L562.0 516.4"/><g fill="none" stroke-linejoin="round" stroke-linecap="round"><path stroke="#5060f0" stroke-width="1" d="M241.0 184.5 L242.3 184.7 L244.6 185.0 L246.8 185.7 L249.1 186.2 L251.8 187.1 L254.5 188.2 L256.8 187.3 L259.0 186.2 L259.6 184.0 L259.8 181.6 L260.6 179.4 L263.2 179.1 L265.9 179.4 L266.7 181.5 L268.1 183.4 L269.0 185.5 L269.9 188.1 L270.5 190.8 L271.4 192.7 L273.0 194.1 L274.0 196.0 L275.4 197.5 L276.6 199.2 L278.4 200.8 L280.6 202.1 L282.2 203.8 L284.2 205.3 M366.5 164.1 L364.4 164.6 L362.4 165.6 L360.4 166.4 L359.1 168.0 L358.0 169.8 L357.2 171.7 L355.8 173.3 L355.1 175.3 L354.7 177.4 L354.3 179.4 L355.2 181.2 L356.1 183.1 L356.3 185.2 L357.3 187.0 L356.8 189.3 L356.2 191.6 L355.8 193.9 L354.4 195.5 L353.4 197.2 L352.1 198.8 L351.2 200.7 L348.2 203.0 M334.5 209.9 L333.0 210.6 L330.4 210.9 L327.8 210.9 L325.3 211.4 L323.3 211.2 L321.3 210.6 L319.2 210.6 L317.5 211.9 L316.4 213.9 L314.7 215.2 L313.3 216.7 L311.8 218.0 L309.9 218.9 L308.6 220.5 L308.1 222.5 L307.4 224.5 L307.0 226.6 L307.5 228.7 L307.8 230.8 L308.3 232.9 L308.6 235.0 L309.4 237.0 L310.1 239.1 L311.0 241.0 L311.9 242.8 L312.6 244.7 L313.7 246.5 L314.7 248.3 L313.2 250.0 L312.1 251.8 L310.8 253.6 L309.7 255.5 L308.6 257.4 L308.3 259.5 L307.3 261.4 L306.7 263.4 L306.3 265.5 L306.0 267.6 L305.5 269.6 L304.2 271.4 L303.4 273.5 L301.9 275.2 L301.0 277.2 L299.7 279.0 L298.7 281.0 L297.6 282.9 L295.9 284.4 L294.9 286.4 L292.9 287.2 L291.4 288.8 L289.3 289.4 L287.6 290.7 L285.7 291.7 L283.2 291.9 L280.6 291.8 L278.1 291.7 L275.9 290.9 L273.6 290.3 L271.2 290.3 L269.0 289.4 L267.3 288.3 L265.3 287.6 L263.7 286.2 L261.8 285.4 L260.2 284.1 L258.3 283.3 L256.2 283.2 L254.2 283.8 L252.2 284.1 L250.8 282.4 L248.8 281.4 L247.1 280.1 L245.6 278.4 L243.7 277.4 L242.3 275.7 L241.0 274.5 M294.9 286.4 L296.9 285.7 L298.9 285.3 L301.0 284.9 L302.9 284.1 L304.9 283.5 L307.0 283.3 L308.8 284.7 L310.9 285.5 L312.6 287.0 L314.7 287.9 L317.0 287.8 L319.2 287.1 L320.3 285.2 L321.5 283.3 L324.2 283.7 L326.9 284.1 L328.8 281.8 L330.7 279.5 L332.5 281.1 L334.5 282.6 L336.5 283.4 L338.6 284.2 L340.6 284.9 L341.6 283.1 L342.7 281.4 L343.3 279.4 L344.2 277.5 L345.1 275.7 L348.2 275.7 L350.6 274.7 L352.8 273.4 L352.3 271.3 L352.0 269.2 L352.2 267.0 L351.5 264.9 L351.2 262.8 L351.9 260.7 L352.2 258.6 L353.1 256.6 L353.9 254.5 L354.2 252.3 L355.2 250.4 L355.8 248.3 L356.5 246.4 L356.8 244.4 L357.8 242.6 L358.3 240.7 L359.1 238.8 L359.6 236.9 L358.9 235.0 L357.5 233.3 L356.4 231.4 L355.0 229.7 M391.6 187.8 L393.6 188.0 L395.6 187.5 L397.6 187.8 L399.9 187.9 L402.2 188.7 L404.4 189.2 L406.8 189.3 L408.7 190.2 L410.5 191.4 L412.2 192.5 L414.1 193.4 L415.9 194.6 L417.4 192.6 L419.0 190.8 L419.1 188.3 L419.4 185.7 L419.7 183.2 L421.7 180.9 L423.5 178.6 L425.2 177.3 L427.0 176.3 L429.0 175.4 L430.5 173.8 L432.4 173.0 L434.2 171.8 L435.8 169.6 L437.2 167.2 L437.1 165.2 L437.0 163.1 L437.2 161.1 L438.8 158.8 L439.0 156.0 M513.7 156.0 L513.7 159.0 L512.1 160.3 L510.9 161.9 L509.0 163.2 L506.9 164.1 L504.7 165.3 L502.3 166.1 L500.0 167.0 L496.7 167.2 L494.5 167.7 L492.5 168.7 L490.3 169.1 L488.2 169.7 L486.0 170.2 L483.8 169.4 L481.4 169.1 L479.2 168.3 L476.9 168.0 L474.7 170.1 L472.3 171.8 L471.4 173.9 L470.1 175.8 L469.2 177.9 L467.8 179.7 L467.0 181.7 L466.0 183.7 L464.7 185.5 L462.5 186.5 L460.1 187.0 L458.1 187.5 L456.1 188.2 L454.0 188.5 L452.3 190.7 L451.0 193.1 L451.1 195.4 L452.0 197.6 L452.3 199.9 L452.5 202.2 L452.3 204.3 L452.4 206.5 L452.3 208.6 L452.6 210.8 L452.5 212.9 L454.2 214.3 L455.5 216.0 L457.5 217.0 L459.2 218.4 L461.3 219.2 L463.1 220.5 L463.7 222.5 L464.2 224.6 L464.7 226.6 L464.0 228.8 L463.2 230.9 L462.4 233.0 L461.4 234.9 L461.1 237.2 L460.1 239.1 L458.4 240.9 L456.1 241.9 L454.2 243.5 L452.5 245.2 L450.4 245.1 L448.4 245.8 L446.4 246.0 L444.7 247.3 L443.1 248.8 L442.0 250.7 L440.3 252.1 M568.6 213.9 L569.0 211.9 L569.1 209.9 L568.6 211.9 L568.6 213.9 L572.0 215.0 L573.5 213.7 L574.9 212.2 L576.2 210.6 L577.7 209.3 L580.0 209.6 L582.3 209.8 L584.6 210.4 L586.8 209.3 L589.2 208.9 L591.4 208.1 L593.2 206.7 L595.2 205.8 L596.7 204.1 L598.9 203.4 L600.6 201.9 L602.1 200.4 L603.5 198.9 L604.9 197.3 L606.3 195.7 L607.4 193.9 L609.2 192.4 L610.6 190.6 L612.7 189.4 L614.1 187.6 L615.9 186.1 L617.7 184.7 L618.6 182.8 L619.2 180.9 L620.0 179.0 L621.0 177.1 L622.5 175.4 L623.3 173.3 L623.6 171.1 L623.5 169.0 L623.7 166.8 L624.3 164.7 L624.2 162.5 L623.3 159.2 L623.0 156.0 M635.8 156.0 L635.8 159.2 L637.2 160.9 L638.4 162.7 L640.0 164.2 L642.3 164.6 L644.5 165.1 L646.7 165.8 L648.9 164.5 L651.2 163.3 L653.3 161.7 L655.0 159.2 L656.0 156.0 M649.2 245.8 L649.5 243.6 L650.4 241.5 L651.0 239.4 L651.4 237.2 L651.7 235.0 L653.5 234.1 L654.8 232.5 L656.8 231.7 L658.5 230.7 L659.9 229.2 L661.7 228.3 L664.0 229.3 L666.2 230.4 L668.3 231.7 L670.0 230.0 L671.6 228.3 L673.3 226.7 L673.5 224.4 L673.9 222.0 L673.5 219.7 L673.7 217.3 L674.2 215.0 L675.7 213.5 L677.3 212.3 L679.0 211.0 L680.8 210.0 L681.1 207.8 L681.0 205.5 L680.8 203.3 L680.0 201.4 L679.8 199.3 L679.2 197.3 L678.7 195.3 L678.3 193.3 L679.1 191.2 L680.1 189.2 L680.9 187.1 L681.7 185.0 L683.3 183.7 L684.9 182.5 L686.6 181.3 L688.2 180.0 L690.0 179.1 L691.7 178.0 L693.3 176.7 L695.1 175.7 L696.9 174.6 L698.8 173.7 L700.7 172.9 L702.6 172.1 L704.5 171.3 L706.3 170.1 L708.2 169.4 L710.0 168.3 L710.1 165.4 L710.0 162.5 L709.2 160.0 L706.7 158.3 L706.0 156.0 M710.0 162.5 L712.4 163.0 L714.7 163.4 L717.0 164.0 L719.3 164.6 L721.7 165.0 L722.2 167.1 L722.4 169.2 L722.9 171.2 L723.3 173.3 L725.6 173.1 L728.0 173.3 L730.3 173.4 L732.7 173.0 L735.0 173.3 L737.1 174.5 L739.2 175.8 L741.1 177.3 L743.3 178.3 L745.6 178.1 L747.7 177.1 L750.0 176.7 L751.7 174.5 L753.0 172.0 M723.3 168.3 L725.4 167.2 L727.1 165.7 L729.1 164.5 L731.0 163.1 L733.2 162.2 L735.0 160.8 L737.4 160.4 L739.7 160.1 L742.1 159.5 L744.4 158.9 L746.7 158.3 L748.8 158.0 L750.9 157.5 L753.0 157.0 M665.8 258.3 L667.0 256.6 L668.6 255.4 L669.7 253.6 L671.2 252.2 L672.9 251.0 L673.9 249.2 L675.3 247.8 L676.7 246.3 L678.3 245.0 L678.6 242.5 L678.3 240.0 L679.5 238.2 L680.8 236.5 L682.7 235.2 L683.7 233.2 L685.5 231.8 L686.7 230.0 L688.4 228.8 L690.2 227.5 L691.9 226.2 L693.4 224.7 L695.0 223.3 L696.0 221.4 L696.4 219.3 L697.7 217.6 L698.3 215.6 L699.3 213.7 L700.0 211.7 L700.0 209.5 L700.7 207.4 L701.0 205.3 L700.7 203.1 L701.1 201.0 L701.5 198.8 L701.7 196.7 L701.1 194.5 L699.8 192.6 L698.9 190.5 L698.3 188.3 L699.9 186.5 L701.7 185.0 L703.5 183.4 L705.0 181.6 L706.7 180.0 L708.7 180.6 L710.7 181.3 L712.7 181.9 L714.7 182.6 L716.7 183.3 L718.6 184.5 L720.0 186.1 L721.5 187.8 L723.4 188.9 L724.9 190.4 L726.7 191.7 L728.8 192.1 L730.7 193.1 L732.6 193.9 L734.7 194.5 L736.7 195.0 L738.3 196.3 L740.0 197.5 L741.6 198.8 L743.3 200.0 L745.7 200.8 L748.4 200.9 L750.8 201.7 L753.0 202.0 M627.2 291.0 L629.2 289.7 L631.6 289.0 L633.7 287.8 L636.2 287.7 L638.6 287.0 L641.0 288.6 L643.4 290.2 L645.7 290.7 L647.9 291.3 L650.3 291.5 L652.6 292.0 L654.8 292.7 L657.1 290.9 L659.6 289.4 L661.9 288.8 L664.1 288.0 L666.4 287.3 L668.8 287.0 L671.0 286.2 L673.5 286.1 L675.8 285.3 L678.3 285.1 L680.7 284.6 L682.3 283.3 L683.9 282.1 L686.0 281.9 L688.0 281.4 L689.9 280.7 L692.0 280.5 L694.0 280.8 L696.0 281.2 L697.8 282.0 L699.8 282.4 L701.7 283.0 L703.5 282.0 L705.5 281.2 L707.4 280.5 L709.3 281.5 L711.0 282.9 L713.0 283.8 L713.0 286.0 L712.3 288.2 L712.4 290.5 L712.2 292.7 L713.4 294.4 L714.7 295.9 L715.7 297.7 L716.9 299.3 L718.3 300.8 L719.5 302.4 L720.7 304.0 L721.8 305.7 L723.0 307.4 L724.4 308.9 L726.7 308.8 L728.9 309.1 L731.2 309.2 L733.4 308.9 L735.7 308.9 L737.5 307.6 L739.4 306.5 L741.4 305.6 L741.8 303.5 L742.1 301.3 L742.2 299.1 L741.2 297.0 L739.8 295.1 L738.2 293.4 L736.8 291.5 L735.7 289.4 L734.6 287.5 L733.6 285.6 L732.9 283.5 L732.1 281.5 L730.9 279.7 L729.5 277.5 L727.6 275.7 L726.8 273.2 L728.4 272.4 M529.0 434.0 L531.1 432.5 L533.5 431.4 L535.6 429.8 L537.7 429.4 L539.8 429.1 L541.9 429.1 L544.0 428.6 L546.6 430.2 L548.8 432.2 L550.8 434.1 L552.4 436.4 L554.2 437.6 L556.3 438.2 L558.2 439.2 L560.1 440.3 L562.0 441.2 L563.4 442.7 L565.1 443.8 L566.4 445.4 L567.8 446.9 L569.2 448.4 M520.0 562.0 L521.5 563.5 L523.1 564.9 L524.5 566.5 L526.0 568.0 L527.8 569.5 L530.0 570.3 L532.0 571.6 L533.1 574.4 L534.3 577.1 L535.7 580.0 L535.0 582.5 L534.0 584.8 L532.9 587.1 L532.8 590.0 L532.9 592.9 L531.1 594.1 L528.9 594.5 L527.1 595.7 L525.5 597.2 L524.5 599.3 L522.6 600.7 L521.5 602.6 L520.0 604.3 L518.6 607.9 L519.9 610.1 L521.3 612.3 L522.9 614.3 L523.4 616.4 L523.6 618.6 M560.0 597.1 L557.8 597.7 L555.7 598.4 L553.5 599.1 L551.4 600.0 L549.6 601.3 L547.5 602.2 L545.7 603.6 L544.0 605.6 L542.7 607.8 L541.4 610.0 L540.3 611.8 L539.5 613.7 L538.2 615.3 L537.1 617.1 L536.5 620.0 L535.7 622.9 L534.7 624.8 L533.9 626.9 L533.1 628.9 L532.5 631.0 L531.4 632.9 L530.2 634.6 L529.2 636.4 L528.4 638.3 L527.1 640.0 L526.1 641.8 L525.6 643.8 L525.2 645.8 L524.0 647.5 L523.8 649.6 L522.9 651.4 L522.0 654.0"/><path stroke="#555" stroke-width="1" d="M368.0 156.0 L368.0 158.8 L368.6 160.8 L368.9 162.9 L369.5 164.9 L371.4 166.3 L373.3 167.6 L375.1 169.0 L377.1 170.2 L379.1 170.2 L381.2 170.1 L383.2 170.2 L385.1 171.3 L387.0 172.5 L388.6 174.0 L387.8 177.9 L388.6 179.9 L389.5 181.8 L390.6 183.6 L391.6 185.5 L390.9 187.8 L388.8 188.1 L386.9 188.9 L384.8 189.3 L384.3 191.3 L383.6 193.3 L382.7 195.2 L382.6 197.3 L381.7 199.2 L379.9 200.7 L378.3 202.4 L376.4 203.8 L376.4 205.9 L377.0 207.9 L377.1 209.9 L379.5 211.7 L381.7 213.7 L380.8 216.0 L379.7 218.2 L378.7 220.5 L379.0 223.1 L379.8 225.5 L380.2 228.1 L381.7 229.6 L383.8 230.6 L385.4 232.0 L387.0 233.5 L390.0 233.0 L392.1 233.9 L394.0 235.0 L395.8 236.5 L397.8 237.5 L399.9 238.3 L401.8 239.4 L403.7 240.7 L405.6 241.6 L407.4 242.8 L409.3 243.7 L411.3 244.5 L413.3 244.9 L415.4 245.0 L417.4 245.2 L419.3 244.3 L421.3 243.8 L423.2 243.1 L425.2 242.6 L427.2 242.0 L429.1 241.1 L431.1 240.7 L435.0 239.9 L435.7 243.7 L436.9 245.4 L437.6 247.3 L438.8 249.0 L438.3 251.0 L437.1 252.8 L436.2 254.7 L435.7 256.7 L434.0 257.8 L432.7 259.5 L431.1 260.8 L429.6 262.1 L428.1 263.5 L426.7 265.3 L425.2 267.1 L424.0 269.1 L422.8 271.1 L423.3 273.4 L423.3 275.7 L423.9 278.0 L424.3 280.3"/></g><path d="M348.5 202.5 L342 204 L337 206.5 L334 209.5 L337 212 L341.5 212 L338.5 209.8 L341 206.5 L348.8 204.2Z" fill="#000066" stroke="#000" stroke-width="1"/><path d="M277.5 157V653 M313.5 157V653 M350.5 157V653 M386.5 157V653 M423.5 157V653 M459.5 157V653 M496.5 157V653 M532.5 157V653 M569.5 157V653 M605.5 157V653 M642.5 157V653 M678.5 157V653 M715.5 157V653 M241 652.5H752 M241 604.5H752 M241 556.5H752 M241 507.5H752 M241 458.5H752 M241 409.5H752 M241 359.5H752 M241 309.5H752 M241 259.5H752 M241 208.5H752" stroke="#000" stroke-opacity="0.5" stroke-width="1" stroke-dasharray="2 2.1" fill="none"/><path fill="#ffff00" stroke="#008000" stroke-width="1.1" stroke-linejoin="miter" d="M559.40 355.70 L560.66 358.66 L563.87 358.95 L561.44 361.06 L562.16 364.20 L559.40 362.55 L556.64 364.20 L557.36 361.06 L554.93 358.95 L558.14 358.66Z M512.30 397.40 L513.56 400.36 L516.77 400.65 L514.34 402.76 L515.06 405.90 L512.30 404.25 L509.54 405.90 L510.26 402.76 L507.83 400.65 L511.04 400.36Z M534.40 400.40 L535.66 403.36 L538.87 403.65 L536.44 405.76 L537.16 408.90 L534.40 407.25 L531.64 408.90 L532.36 405.76 L529.93 403.65 L533.14 403.36Z M568.50 395.20 L569.76 398.16 L572.97 398.45 L570.54 400.56 L571.26 403.70 L568.50 402.05 L565.74 403.70 L566.46 400.56 L564.03 398.45 L567.24 398.16Z M557.40 410.40 L558.66 413.36 L561.87 413.65 L559.44 415.76 L560.16 418.90 L557.40 417.25 L554.64 418.90 L555.36 415.76 L552.93 413.65 L556.14 413.36Z M540.20 421.50 L541.46 424.46 L544.67 424.75 L542.24 426.86 L542.96 430.00 L540.20 428.35 L537.44 430.00 L538.16 426.86 L535.73 424.75 L538.94 424.46Z M508.40 431.60 L509.66 434.56 L512.87 434.85 L510.44 436.96 L511.16 440.10 L508.40 438.45 L505.64 440.10 L506.36 436.96 L503.93 434.85 L507.14 434.56Z M573.30 442.60 L574.56 445.56 L577.77 445.85 L575.34 447.96 L576.06 451.10 L573.30 449.45 L570.54 451.10 L571.26 447.96 L568.83 445.85 L572.04 445.56Z M537.50 450.60 L538.76 453.56 L541.97 453.85 L539.54 455.96 L540.26 459.10 L537.50 457.45 L534.74 459.10 L535.46 455.96 L533.03 453.85 L536.24 453.56Z M510.30 453.40 L511.56 456.36 L514.77 456.65 L512.34 458.76 L513.06 461.90 L510.30 460.25 L507.54 461.90 L508.26 458.76 L505.83 456.65 L509.04 456.36Z M546.60 468.20 L547.86 471.16 L551.07 471.45 L548.64 473.56 L549.36 476.70 L546.60 475.05 L543.84 476.70 L544.56 473.56 L542.13 471.45 L545.34 471.16Z M546.60 515.30 L547.86 518.26 L551.07 518.55 L548.64 520.66 L549.36 523.80 L546.60 522.15 L543.84 523.80 L544.56 520.66 L542.13 518.55 L545.34 518.26Z"/></g><path d="M752 394.6L747.5 394.3L744.5 395L742.6 397L741.4 399.5L741.6 401.5L743 403.3L744.2 405L746.5 406.2L749.5 406.6L752 406.2Z" fill="#0000ff" stroke="#000" stroke-width="1"/><path d="M242 53V157M241 54H863M862 53V157" stroke="#000" stroke-width="2" fill="none"/><path d="M243 87.5H751M243 122.5H751" stroke="#555" stroke-width="1"/><path d="M241 157.5H863" stroke="#000" stroke-width="3"/><path d="M752.5 53V654" stroke="#000" stroke-width="3"/><path d="M862 157V654M751 653H863" stroke="#000" stroke-width="2"/><path d="M241.5 157V654M241 653.5H752" stroke="#000" stroke-width="1"/><path d="M789.5 159V652M825.5 159V652" stroke="#555" stroke-width="1"/><rect x="158.5" y="690.5" width="787" height="38" fill="none" stroke="#222" stroke-width="1"/><g style='font-family:"Liberation Sans",sans-serif' fill="#000"><text x="245.43" y="45.6" font-size="23.42" textLength="86.94" lengthAdjust="spacingAndGlyphs">SAETTA</text><text x="339.68" y="45.6" font-size="23.42" textLength="101.55" lengthAdjust="spacingAndGlyphs">Realtime</text><text x="448.53" y="45.6" font-size="23.42" textLength="107.54" lengthAdjust="spacingAndGlyphs">Lightning</text><text x="563.39" y="45.6" font-size="23.42" textLength="98.70" lengthAdjust="spacingAndGlyphs">Mapping</text><text x="669.40" y="45.6" font-size="23.42" textLength="61.95" lengthAdjust="spacingAndGlyphs">Array</text><text x="738.66" y="45.6" font-size="23.42" textLength="8.30" lengthAdjust="spacingAndGlyphs">-</text><text x="754.27" y="45.6" font-size="23.42" textLength="103.30" lengthAdjust="spacingAndGlyphs">25/11/13</text><text x="219.00" y="52" font-size="10.61" textLength="13.26" lengthAdjust="spacingAndGlyphs">15</text><text x="219.00" y="86.8" font-size="10.61" textLength="13.26" lengthAdjust="spacingAndGlyphs">10</text><text x="219.00" y="121.9" font-size="10.61" textLength="6.63" lengthAdjust="spacingAndGlyphs">5</text><text x="219.00" y="156.8" font-size="10.61" textLength="6.63" lengthAdjust="spacingAndGlyphs">0</text><text x="185.50" y="104.8" font-size="12.01" textLength="19.23" lengthAdjust="spacingAndGlyphs">Km</text><text x="208.54" y="655.1" font-size="10.61" textLength="26.26" lengthAdjust="spacingAndGlyphs">40°N</text><text x="198.59" y="607.3" font-size="10.61" textLength="36.21" lengthAdjust="spacingAndGlyphs">40.5°N</text><text x="208.54" y="559.1" font-size="10.61" textLength="26.26" lengthAdjust="spacingAndGlyphs">41°N</text><text x="198.59" y="510.5" font-size="10.61" textLength="36.21" lengthAdjust="spacingAndGlyphs">41.5°N</text><text x="208.54" y="461.6" font-size="10.61" textLength="26.26" lengthAdjust="spacingAndGlyphs">42°N</text><text x="198.59" y="412.3" font-size="10.61" textLength="36.21" lengthAdjust="spacingAndGlyphs">42.5°N</text><text x="208.54" y="362.6" font-size="10.61" textLength="26.26" lengthAdjust="spacingAndGlyphs">43°N</text><text x="198.59" y="312.5" font-size="10.61" textLength="36.21" lengthAdjust="spacingAndGlyphs">43.5°N</text><text x="208.54" y="262.0" font-size="10.61" textLength="26.26" lengthAdjust="spacingAndGlyphs">44°N</text><text x="198.59" y="211.0" font-size="10.61" textLength="36.21" lengthAdjust="spacingAndGlyphs">44.5°N</text><text x="232.29" y="667" font-size="10.61" textLength="18.42" lengthAdjust="spacingAndGlyphs">5°E</text><text x="263.82" y="667" font-size="10.61" textLength="28.37" lengthAdjust="spacingAndGlyphs">5.5°E</text><text x="305.29" y="667" font-size="10.61" textLength="18.42" lengthAdjust="spacingAndGlyphs">6°E</text><text x="336.82" y="667" font-size="10.61" textLength="28.37" lengthAdjust="spacingAndGlyphs">6.5°E</text><text x="378.29" y="667" font-size="10.61" textLength="18.42" lengthAdjust="spacingAndGlyphs">7°E</text><text x="409.82" y="667" font-size="10.61" textLength="28.37" lengthAdjust="spacingAndGlyphs">7.5°E</text><text x="451.29" y="667" font-size="10.61" textLength="18.42" lengthAdjust="spacingAndGlyphs">8°E</text><text x="482.82" y="667" font-size="10.61" textLength="28.37" lengthAdjust="spacingAndGlyphs">8.5°E</text><text x="524.29" y="667" font-size="10.61" textLength="18.42" lengthAdjust="spacingAndGlyphs">9°E</text><text x="555.82" y="667" font-size="10.61" textLength="28.37" lengthAdjust="spacingAndGlyphs">9.5°E</text><text x="593.97" y="667" font-size="10.61" textLength="25.05" lengthAdjust="spacingAndGlyphs">10°E</text><text x="625.50" y="667" font-size="10.61" textLength="34.99" lengthAdjust="spacingAndGlyphs">10.5°E</text><text x="666.97" y="667" font-size="10.61" textLength="25.05" lengthAdjust="spacingAndGlyphs">11°E</text><text x="698.50" y="667" font-size="10.61" textLength="34.99" lengthAdjust="spacingAndGlyphs">11.5°E</text><text x="752.60" y="666.8" font-size="10.61" textLength="6.63" lengthAdjust="spacingAndGlyphs">0</text><text x="788.90" y="666.8" font-size="10.61" textLength="6.63" lengthAdjust="spacingAndGlyphs">5</text><text x="824.60" y="666.8" font-size="10.61" textLength="13.26" lengthAdjust="spacingAndGlyphs">10</text><text x="861.60" y="666.8" font-size="10.61" textLength="13.26" lengthAdjust="spacingAndGlyphs">15</text><text x="806.72" y="676.2" font-size="11.96" textLength="19.15" lengthAdjust="spacingAndGlyphs">Km</text><text x="432.59" y="719" font-size="19.14" textLength="43.75" lengthAdjust="spacingAndGlyphs">from</text><text x="482.32" y="719" font-size="19.14" textLength="84.44" lengthAdjust="spacingAndGlyphs">16:20:00</text><text x="572.73" y="719" font-size="19.14" textLength="18.87" lengthAdjust="spacingAndGlyphs">to</text><text x="597.58" y="719" font-size="19.14" textLength="84.44" lengthAdjust="spacingAndGlyphs">16:29:59</text></g>
</svg></body></html>
